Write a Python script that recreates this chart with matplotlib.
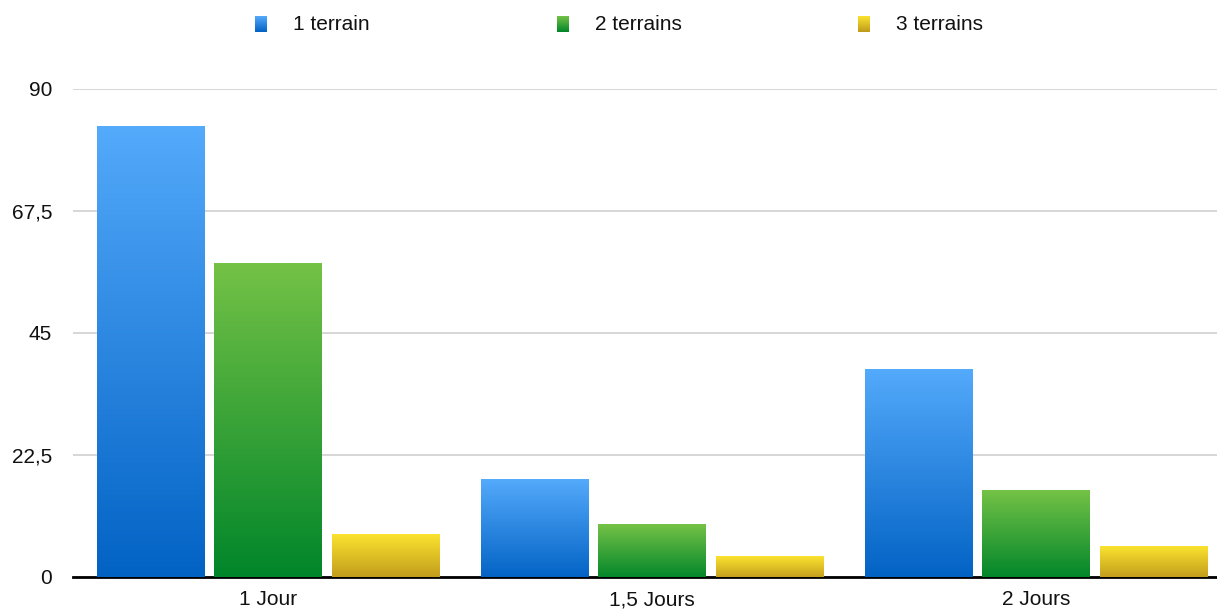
import matplotlib.pyplot as plt
import numpy as np
from matplotlib.colors import LinearSegmentedColormap

plt.rcParams['font.family'] = ['Liberation Sans', 'DejaVu Sans']

# Data
categories = ['1 Jour', '1,5 Jours', '2 Jours']
series = ['1 terrain', '2 terrains', '3 terrains']
values_1 = [83, 18, 38.2]
values_2 = [57.9, 9.6, 16]
values_3 = [7.8, 3.7, 5.7]
yticks = [0, 22.5, 45, 67.5, 90]
ytick_labels = ['0', '22,5', '45', '67,5', '90']

# gradient colours (bottom, top)
grads = [('#0262c4', '#54aafb'), ('#00852a', '#74c246'), ('#c09a1c', '#fbe32f')]
cmaps = [LinearSegmentedColormap.from_list('g%d' % i, [b, t]) for i, (b, t) in enumerate(grads)]

fig = plt.figure(figsize=(12.17, 6.09), dpi=100)
ax = fig.add_axes([73 / 1217, (609 - 577) / 609, 1 - 73 / 1217, (577 - 89) / 609])

grad = np.linspace(0, 1, 256).reshape(-1, 1)
width = 0.281
step = 0.306
x = np.arange(len(categories))
for i, vals in enumerate([values_1, values_2, values_3]):
    for xc, v in zip(x, vals):
        x0 = xc + (i - 1) * step - width / 2
        ax.imshow(grad, extent=[x0, x0 + width, -0.35, v], origin='lower',
                  aspect='auto', cmap=cmaps[i], zorder=3, interpolation='bilinear')

ax.set_xlim(-0.508, 2.471)
ax.set_ylim(0, 90)
ax.set_yticks(yticks)
ax.set_yticklabels(ytick_labels)
ax.set_xticks(x)
ax.set_xticklabels([])
# category labels, baseline aligned
for xc, cat in zip(x, categories):
    ax.text(xc, -28 / 488, cat, transform=ax.get_xaxis_transform(), ha='center',
            va='baseline', fontsize=15, color='#111111')
ax.tick_params(axis='both', length=0, labelsize=15, colors='#111111')
ax.tick_params(axis='y', pad=15)
ax.grid(axis='y', color='#d0d0d0', linewidth=1.2, zorder=0)
for s in ['top', 'right', 'left']:
    ax.spines[s].set_visible(False)
ax.spines['bottom'].set_linewidth(2)
ax.spines['bottom'].set_color('#000000')
ax.spines['bottom'].set_zorder(2)

# legend at top
leg_x = [255, 557, 858]
for i, name in enumerate(series):
    lax = fig.add_axes([leg_x[i] / 1217, (609 - 32) / 609, 12 / 1217, 16 / 609])
    lax.imshow(grad, origin='lower', aspect='auto', cmap=cmaps[i], interpolation='bilinear')
    lax.axis('off')
    fig.text((leg_x[i] + 38) / 1217, (609 - 25) / 609, name, fontsize=15,
             va='center', ha='left', color='#111111')

plt.savefig('out.png', dpi=100)
